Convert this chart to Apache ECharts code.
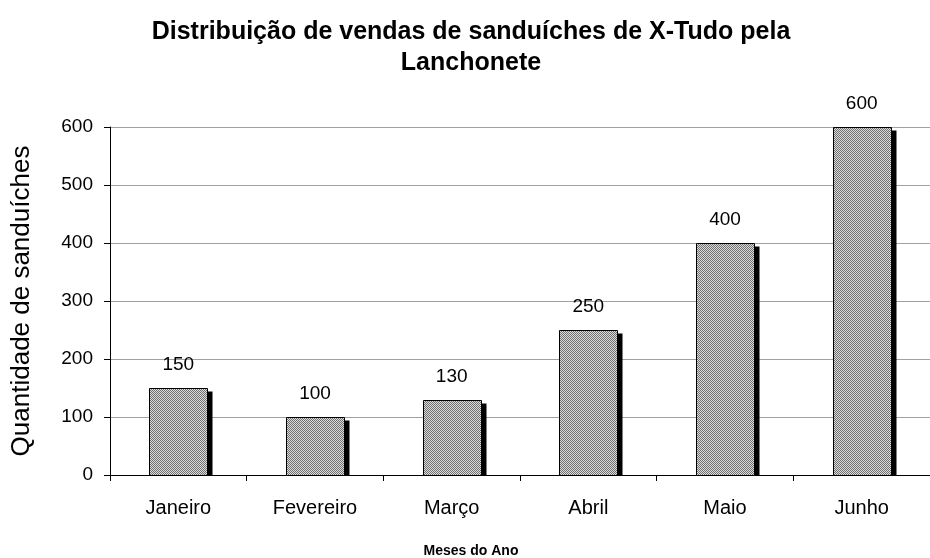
<!DOCTYPE html>
<html>
<head>
<meta charset="utf-8">
<script src="https://cdn.jsdelivr.net/npm/echarts@6/dist/echarts.min.js"></script>
<style>
    html, body { margin: 0; padding: 0; background: #fff; }
    #chart { width: 930px; height: 558px; }
</style>
</head>
<body>
<div id="chart"></div>
<script>
// dados do gráfico
var meses = ['Janeiro', 'Fevereiro', 'Março', 'Abril', 'Maio', 'Junho'];
var vendas = [150, 100, 130, 250, 400, 600];
var yTicks = [0, 100, 200, 300, 400, 500, 600];

(function(win){
    //padrão quadriculado cinza das barras
    var tile = document.createElement('canvas');
    tile.width = 2;
    tile.height = 2;
    var ctx = tile.getContext('2d');
    ctx.fillStyle = '#dcdcdc';
    ctx.fillRect(0, 0, 2, 2);
    ctx.fillStyle = '#707070';
    ctx.fillRect(0, 0, 1, 1);
    ctx.fillRect(1, 1, 1, 1);

    var font = '"Liberation Sans", Arial, sans-serif';
    var barW = 58;

    /** barra com sombra preta + rótulo do valor */
    var renderBar = function(params, api){
        var top = api.coord([api.value(0), api.value(1)]);
        var base = api.coord([api.value(0), 0]);
        var x = Math.round(top[0] - barW / 2) + 0.5;
        var y = Math.round(top[1]) + 0.5;
        var h = Math.round(base[1]) - Math.round(top[1]);
        return {
            type: 'group',
            children: [
                {
                    type: 'rect',
                    shape: { x: x + 5, y: y + 3, width: barW, height: h - 3 },
                    style: { fill: '#000' }
                },
                {
                    type: 'rect',
                    shape: { x: x, y: y, width: barW, height: h },
                    style: { fill: { image: tile, repeat: 'repeat' }, stroke: '#000', lineWidth: 1 }
                },
                {
                    type: 'text',
                    style: {
                        text: String(api.value(1)),
                        x: top[0],
                        y: y - 24,
                        align: 'center',
                        verticalAlign: 'middle',
                        fontFamily: font,
                        fontSize: 19,
                        fill: '#000'
                    }
                }
            ]
        };
    };

    var data = [];
    for(var i = 0; i < vendas.length; i++) data.push([i, vendas[i]]);

    var chart = echarts.init(document.getElementById('chart'));
    var options = {
        backgroundColor: '#fff',
        animation: false,
        title: [
            {
                text: 'Distribuição de vendas de sanduíches de X-Tudo pela\nLanchonete',
                left: 466,
                top: 12,
                textAlign: 'center',
                textStyle: {
                    fontFamily: font,
                    fontWeight: 'bold',
                    fontSize: 25,
                    lineHeight: 31,
                    color: '#000'
                }
            },
            {
                text: 'Meses do Ano',
                left: 466,
                top: 539,
                textAlign: 'center',
                textStyle: {
                    fontFamily: font,
                    fontWeight: 'bold',
                    fontSize: 14,
                    color: '#000'
                }
            }
        ],
        grid: {
            left: 110,
            right: -6,
            top: 127,
            bottom: 83,
            containLabel: false
        },
        xAxis: {
            type: 'category',
            data: meses,
            axisLine: { lineStyle: { color: '#000', width: 1 } },
            axisTick: { show: true, alignWithLabel: false, length: 6, lineStyle: { color: '#000' } },
            axisLabel: {
                margin: 23,
                fontFamily: font,
                fontSize: 20,
                color: '#000'
            }
        },
        yAxis: {
            type: 'value',
            min: yTicks[0],
            max: yTicks[yTicks.length - 1],
            interval: yTicks[1] - yTicks[0],
            name: 'Quantidade de sanduíches',
            nameLocation: 'middle',
            nameGap: 75,
            nameTextStyle: {
                fontFamily: font,
                fontSize: 26,
                color: '#000'
            },
            axisLine: { show: true, lineStyle: { color: '#000', width: 1 } },
            axisTick: { show: true, length: 6, lineStyle: { color: '#000' } },
            axisLabel: {
                margin: 17,
                fontFamily: font,
                fontSize: 19,
                color: '#000'
            },
            splitLine: { show: true, lineStyle: { color: '#a0a0a0', width: 1 } }
        },
        series: [
            {
                type: 'custom',
                renderItem: renderBar,
                encode: { x: 0, y: 1 },
                data: data
            }
        ]
    };
    chart.setOption(options);
})(window);
</script>
</body>
</html>
